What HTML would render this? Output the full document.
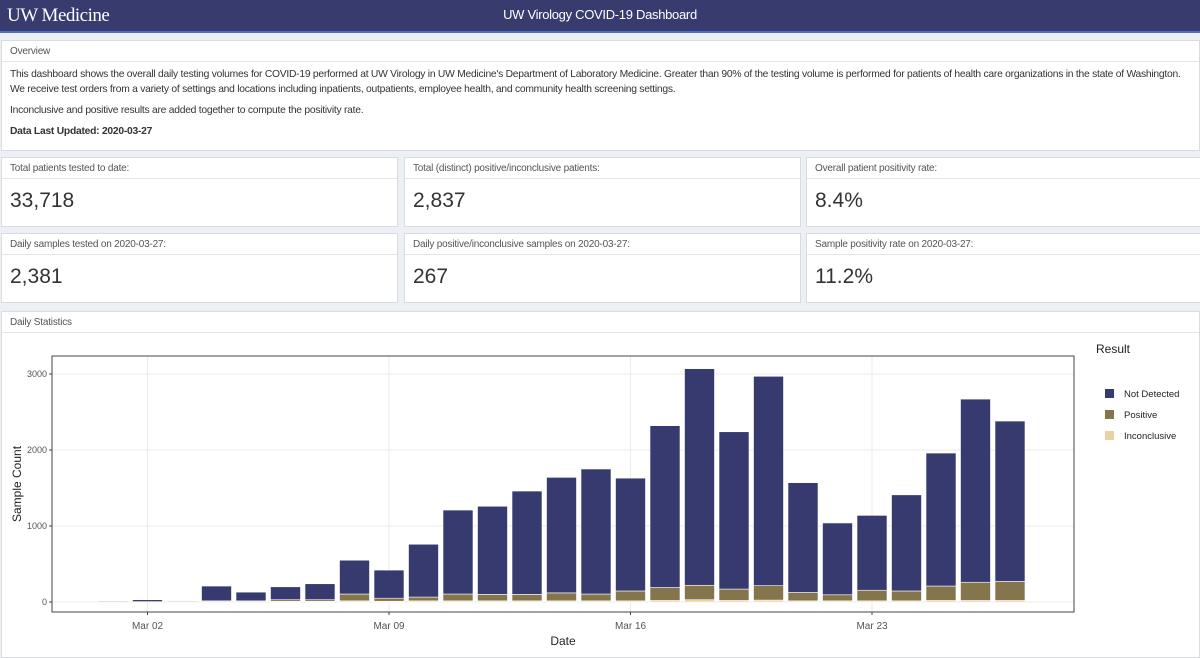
<!DOCTYPE html>
<html><head><meta charset="utf-8">
<style>
body{margin:0;width:1200px;height:649px;overflow:hidden;background:#ecf0f5;font-family:"Liberation Sans",sans-serif;position:relative;color:#333}
.hdr{position:absolute;left:0;top:0;width:1200px;height:31px;background:#373b6e;border-bottom:2px solid #4a6fc4}
.logo{position:absolute;left:7px;top:5px;color:#fff;font-family:"Liberation Serif",serif;font-size:19px;letter-spacing:-0.5px}
.title{position:absolute;left:0;width:1200px;top:7px;text-align:center;color:#fff;font-size:13px;letter-spacing:-0.3px}
.box{position:absolute;background:#fff;border:1px solid #d8dbe0}
.bh{height:21px;border-bottom:1px solid #e4e4e4;font-size:10px;color:#555;padding:5px 0 0 8px;box-sizing:border-box;letter-spacing:-0.2px}
.val{font-size:21px;color:#333;padding:10px 0 0 8px}
.ov p{margin:0;font-size:10.3px;letter-spacing:-0.25px;white-space:nowrap;line-height:15px;padding-left:8px}
</style></head><body>
<div class="hdr">
<div class="logo">UW Medicine</div>
<div class="title">UW Virology COVID-19 Dashboard</div>
</div>
<div class="box ov" style="left:1px;top:40px;width:1197px;height:109px">
<div class="bh">Overview</div>
<p style="margin-top:5px">This dashboard shows the overall daily testing volumes for COVID-19 performed at UW Virology in UW Medicine's Department of Laboratory Medicine. Greater than 90% of the testing volume is performed for patients of health care organizations in the state of Washington.</p>
<p>We receive test orders from a variety of settings and locations including inpatients, outpatients, employee health, and community health screening settings.</p>
<p style="margin-top:6px">Inconclusive and positive results are added together to compute the positivity rate.</p>
<p style="margin-top:6px;font-weight:bold">Data Last Updated: 2020-03-27</p>
</div>
<div class="box" style="left:1px;top:157px;width:395px;height:68px"><div class="bh">Total patients tested to date:</div><div class="val">33,718</div></div>
<div class="box" style="left:404px;top:157px;width:395px;height:68px"><div class="bh">Total (distinct) positive/inconclusive patients:</div><div class="val">2,837</div></div>
<div class="box" style="left:806px;top:157px;width:393px;height:68px"><div class="bh">Overall patient positivity rate:</div><div class="val">8.4%</div></div>
<div class="box" style="left:1px;top:233px;width:395px;height:68px"><div class="bh">Daily samples tested on 2020-03-27:</div><div class="val">2,381</div></div>
<div class="box" style="left:404px;top:233px;width:395px;height:68px"><div class="bh">Daily positive/inconclusive samples on 2020-03-27:</div><div class="val">267</div></div>
<div class="box" style="left:806px;top:233px;width:393px;height:68px"><div class="bh">Sample positivity rate on 2020-03-27:</div><div class="val">11.2%</div></div>
<div class="box" style="left:1px;top:311px;width:1197px;height:345px">
<div class="bh">Daily Statistics</div>
</div>
<svg id="chart" style="position:absolute;left:0;top:0" width="1200" height="649"></svg>
<script>
const dates=["Mar 01","Mar 02","Mar 03","Mar 04","Mar 05","Mar 06","Mar 07","Mar 08","Mar 09","Mar 10","Mar 11","Mar 12","Mar 13","Mar 14","Mar 15","Mar 16","Mar 17","Mar 18","Mar 19","Mar 20","Mar 21","Mar 22","Mar 23","Mar 24","Mar 25","Mar 26","Mar 27"];
const inconclusive=[0,0,5,5,5,10,10,15,10,15,15,15,15,15,15,15,20,30,20,25,15,15,15,15,20,20,20];
const positive=[0,5,10,10,10,20,20,90,40,50,90,85,85,105,90,130,170,190,150,190,110,80,140,130,190,240,250];
const notDetected=[10,25,0,195,115,170,210,445,370,695,1105,1160,1360,1520,1645,1485,2130,2850,2070,2755,1445,945,985,1265,1750,2410,2111];
const xTicks=["Mar 02","Mar 09","Mar 16","Mar 23"];
const yTicks=[0,1000,2000,3000];
const NS="http://www.w3.org/2000/svg",svg=document.getElementById('chart');
const L=52,R=1074,T=356,B=612;
const x=i=>113+i*34.5, y=v=>602-v*0.076, bw=30;
function mk(t,a,txt){const e=document.createElementNS(NS,t);for(const k in a)e.setAttribute(k,a[k]);if(txt!==undefined)e.textContent=txt;svg.appendChild(e);return e;}
let e=mk('rect',{x:L,y:T,width:R-L,height:B-T,fill:'#fff'});

yTicks.forEach(v=>{mk('line',{x1:L,x2:R,y1:y(v),y2:y(v),stroke:'#ebebeb'});});
xTicks.forEach(d=>{const i=dates.indexOf(d);mk('line',{x1:x(i),x2:x(i),y1:T,y2:B,stroke:'#ebebeb'});});
dates.forEach((d,i)=>{
 let base=0;
 [[inconclusive,'#e8d3a2','inconclusive'],[positive,'#85754d','positive'],[notDetected,'#363a6e','not-detected']].forEach(([arr,c,n])=>{
  const v=arr[i];if(v<=0)return;
  const r=mk('rect',{x:x(i)-bw/2,y:y(base+v),width:bw,height:y(base)-y(base+v),fill:c,stroke:'#fff','stroke-width':0.6});
  
  
  base+=v;});
});
mk('rect',{x:L,y:T,width:R-L,height:B-T,fill:'none',stroke:'#444','stroke-width':1});
yTicks.forEach(v=>{mk('line',{x1:L-3,x2:L,y1:y(v),y2:y(v),stroke:'#444'});
 const t=mk('text',{x:L-5,y:y(v)+3,'text-anchor':'end','font-size':9,fill:'#555'},String(v));
 });
xTicks.forEach(d=>{const i=dates.indexOf(d);mk('line',{x1:x(i),x2:x(i),y1:B,y2:B+3,stroke:'#444'});
 const t=mk('text',{x:x(i),y:B+17,'text-anchor':'middle','font-size':10,fill:'#555'},d);
 });
e=mk('text',{x:563,y:645,'text-anchor':'middle','font-size':12,fill:'#222'},'Date');

e=mk('text',{x:21,y:484,'text-anchor':'middle','font-size':12,fill:'#222',transform:'rotate(-90 21 484)'},'Sample Count');

e=mk('text',{x:1096,y:353,'font-size':12,fill:'#222'},'Result');

[['Not Detected','#363a6e',394],['Positive','#85754d',415],['Inconclusive','#e8d3a2',436]].forEach(([n,c,yy])=>{
 const r=mk('rect',{x:1105,y:yy-5,width:9,height:9,fill:c});
 
 const t=mk('text',{x:1124,y:yy+3,'font-size':9.5,fill:'#222'},n);
 
});
</script>
</body></html>
